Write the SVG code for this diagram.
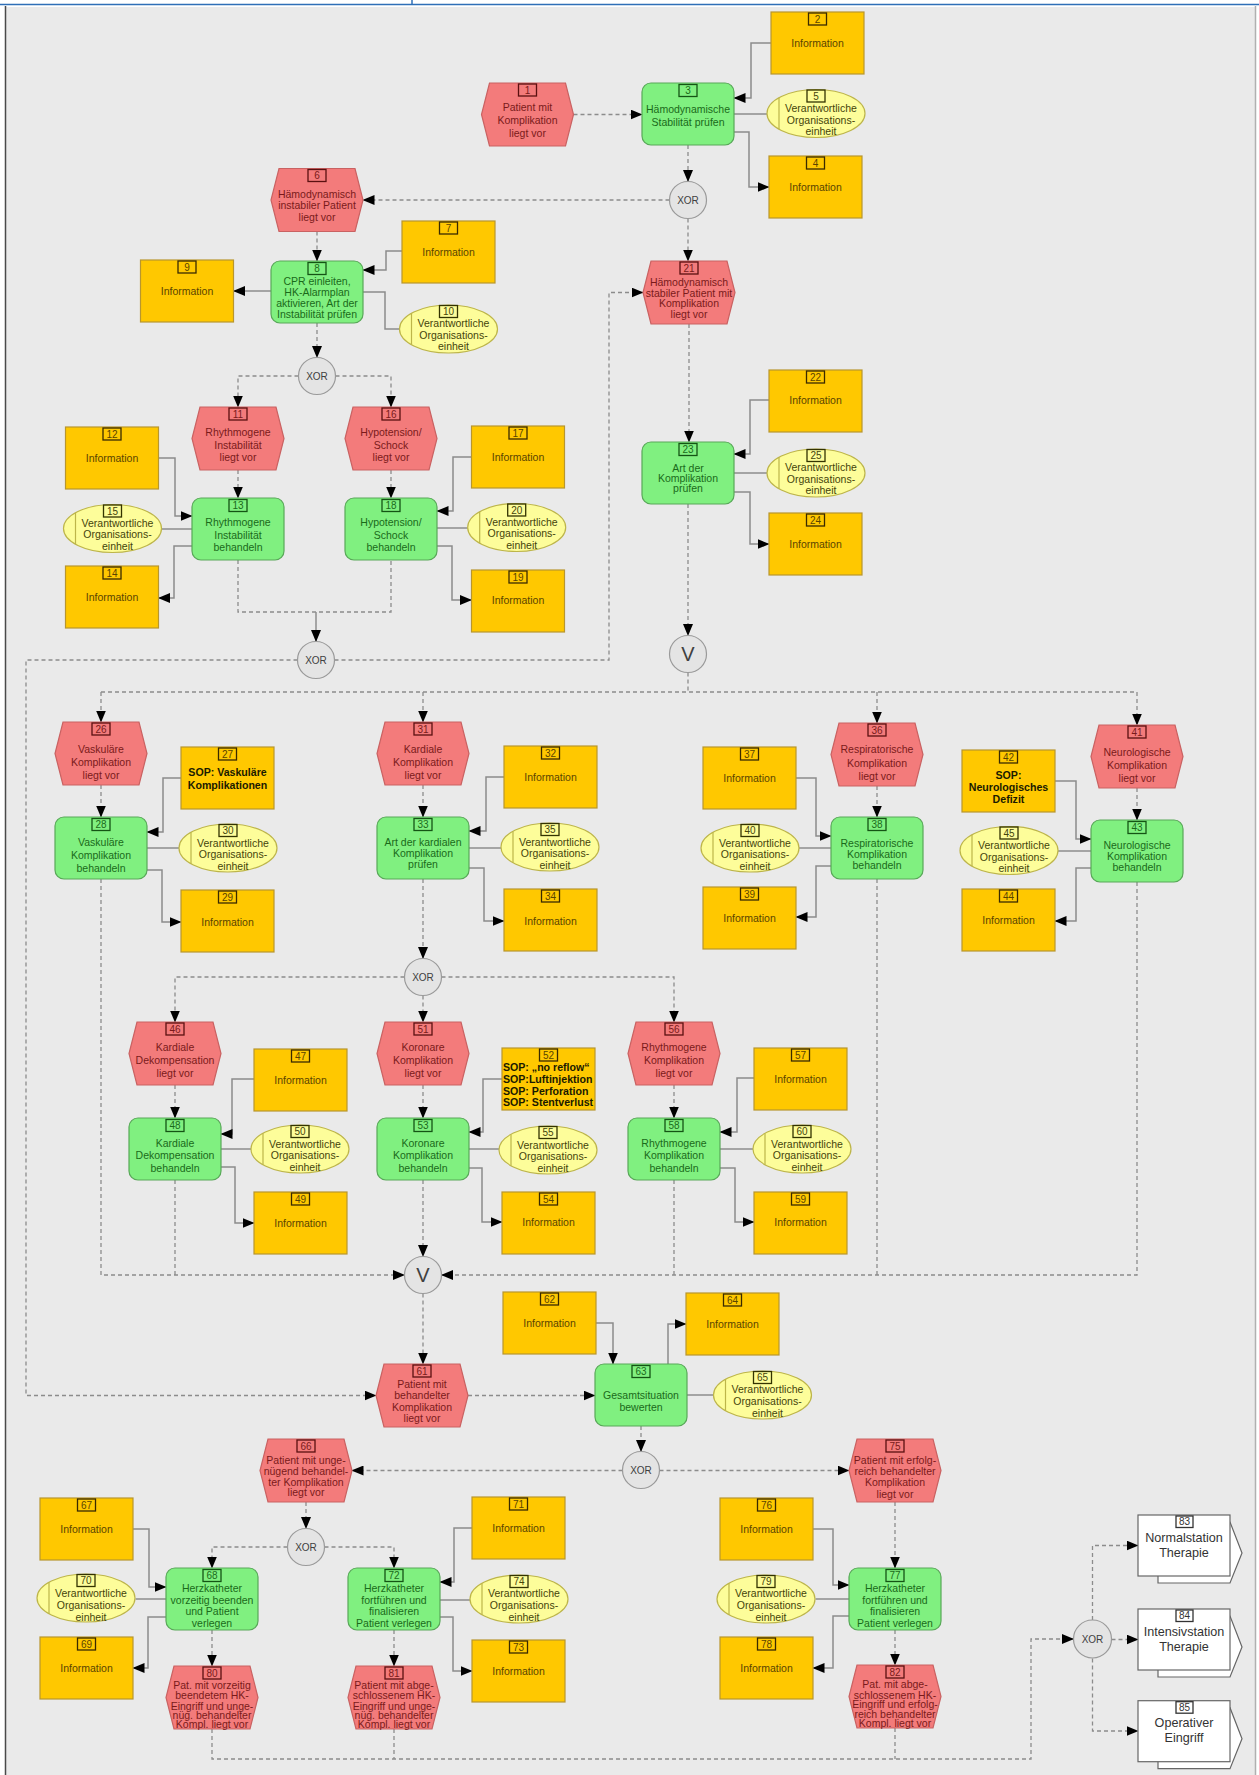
<svg xmlns="http://www.w3.org/2000/svg" xmlns:xlink="http://www.w3.org/1999/xlink" width="1259" height="1775" viewBox="0 0 1259 1775">
<style>
.ev{fill:#f37b7b;stroke:#c96262;stroke-width:1.2}
.fn{fill:#80f080;stroke:#58a858;stroke-width:1.2}
.inf{fill:#ffc800;stroke:#b8962e;stroke-width:1.2}
.org{fill:#fdfd9a;stroke:#bdb54a;stroke-width:1.2}
.ol{stroke:#bdb54a;stroke-width:1.2}
.gw{fill:#e4e4e4;stroke:#9a9a9a;stroke-width:1.2}
.pi{fill:#fff;stroke:#666;stroke-width:1.2}
.d{fill:none;stroke:#8c8c8c;stroke-width:1.3;stroke-dasharray:4 3}
.s{fill:none;stroke:#8c8c8c;stroke-width:1.5}
text{font-family:"Liberation Sans",Arial,sans-serif;font-size:10.5px;text-anchor:middle;dominant-baseline:central}
.te{fill:#7a1a1a}.tf{fill:#1a6a1a}.ti{fill:#5a4400}.to{fill:#44440a}.tg{fill:#404040;font-size:10px}.tp{fill:#333;font-size:12.6px}
.b{font-weight:bold;fill:#1a1a00;font-size:10.6px}
.n{font-size:10px}
.nb{fill:none;stroke-width:1.3}
.nbe{stroke:#5a1010}.nbf{stroke:#145414}.nbi{stroke:#3a2a00}.nbo{stroke:#333300}.nbp{stroke:#333}
</style>
<defs>
<marker id="a" markerUnits="userSpaceOnUse" markerWidth="12" markerHeight="10" refX="11.5" refY="5" orient="auto"><path d="M0,0L12,5L0,10z" fill="#000"/></marker>
<polygon id="ev" class="ev" points="8,0 84,0 92,31.5 84,63 8,63 0,31.5"/>
<rect id="fn" class="fn" width="92" height="62" rx="9"/>
<rect id="inf" class="inf" width="93" height="62"/>
<g id="org"><ellipse class="org" cx="49" cy="24" rx="49" ry="24"/><line class="ol" x1="12" y1="8.3" x2="12" y2="39.7"/></g>
<rect id="be" class="nb nbe" x="37" y="1" width="18" height="12"/>
<rect id="bf" class="nb nbf" x="37" y="1.5" width="18" height="12"/>
<rect id="bi" class="nb nbi" x="37.5" y="1" width="18" height="12"/>
<rect id="bo" class="nb nbo" x="40" y="0.5" width="18" height="12"/>
<g id="pis"><polygon class="pi" points="20,7 92,7 104,38 92,68 20,68"/><rect class="pi" width="92" height="61"/><rect class="nb nbp" x="38" y="1" width="17" height="11.5"/></g>
</defs>

<rect width="1259" height="1775" fill="#fff"/>
<rect x="6" y="7" width="1249" height="1768" fill="#eaeaea"/>
<line x1="5.5" y1="6" x2="5.5" y2="1775" stroke="#4a4a4a" stroke-width="1.5"/>
<line x1="1255.5" y1="6" x2="1255.5" y2="1775" stroke="#b0b0b0" stroke-width="1.5"/>
<line x1="0" y1="4.5" x2="1259" y2="4.5" stroke="#2f6fb7" stroke-width="1.6"/>
<line x1="412" y1="0" x2="412" y2="4.5" stroke="#2f6fb7" stroke-width="1.5"/>

<g id="connectors">
<!-- flow (dashed) -->
<path class="d" d="M573.5,114.5H642" marker-end="url(#a)"/>
<path class="d" d="M688,145V181.5" marker-end="url(#a)"/>
<path class="d" d="M669.5,200H363" marker-end="url(#a)"/>
<path class="d" d="M688,218.5V261" marker-end="url(#a)"/>
<path class="d" d="M317,231.5V261" marker-end="url(#a)"/>
<path class="d" d="M317,323V357.5" marker-end="url(#a)"/>
<path class="d" d="M298.5,376H238V407" marker-end="url(#a)"/>
<path class="d" d="M335.5,376H391V407" marker-end="url(#a)"/>
<path class="d" d="M238,470V498" marker-end="url(#a)"/>
<path class="d" d="M391,470V498" marker-end="url(#a)"/>
<path class="d" d="M238,560V612H391V560"/>
<path class="s" d="M316,612V641.5" marker-end="url(#a)"/>
<path class="d" d="M297.5,660H26V1395.5H376" marker-end="url(#a)"/>
<path class="d" d="M334.5,660H609V292.5H643" marker-end="url(#a)"/>
<path class="d" d="M689,324V442" marker-end="url(#a)"/>
<path class="d" d="M688,504V635.5" marker-end="url(#a)"/>
<path class="d" d="M688,672.5V692M101,692H1137"/>
<path class="d" d="M101,692V722" marker-end="url(#a)"/>
<path class="d" d="M423,692V722" marker-end="url(#a)"/>
<path class="d" d="M877,692V723" marker-end="url(#a)"/>
<path class="d" d="M1137,692V725" marker-end="url(#a)"/>
<path class="d" d="M101,785V817" marker-end="url(#a)"/>
<path class="d" d="M423,785V817" marker-end="url(#a)"/>
<path class="d" d="M877,786V817" marker-end="url(#a)"/>
<path class="d" d="M1137,788V820" marker-end="url(#a)"/>
<path class="d" d="M423,879V958.5" marker-end="url(#a)"/>
<path class="d" d="M404.5,977H175V1022" marker-end="url(#a)"/>
<path class="d" d="M423,995.5V1022" marker-end="url(#a)"/>
<path class="d" d="M441.5,977H674V1022" marker-end="url(#a)"/>
<path class="d" d="M175,1085V1118" marker-end="url(#a)"/>
<path class="d" d="M423,1085V1118" marker-end="url(#a)"/>
<path class="d" d="M674,1085V1118" marker-end="url(#a)"/>
<path class="d" d="M101,879V1275H404.5" marker-end="url(#a)"/>
<path class="d" d="M175,1180V1275"/>
<path class="d" d="M423,1180V1256.5" marker-end="url(#a)"/>
<path class="d" d="M1137,882V1275H441.5" marker-end="url(#a)"/>
<path class="d" d="M877,879V1275"/>
<path class="d" d="M674,1180V1275"/>
<path class="d" d="M423,1293.5V1364" marker-end="url(#a)"/>
<path class="d" d="M468,1395.5H595" marker-end="url(#a)"/>
<path class="d" d="M641,1426V1451.5" marker-end="url(#a)"/>
<path class="d" d="M622.5,1470.5H352" marker-end="url(#a)"/>
<path class="d" d="M659.5,1470.5H849" marker-end="url(#a)"/>
<path class="d" d="M306,1502V1528.5" marker-end="url(#a)"/>
<path class="d" d="M287.5,1547H212V1568" marker-end="url(#a)"/>
<path class="d" d="M324.5,1547H394V1568" marker-end="url(#a)"/>
<path class="d" d="M212,1630V1666" marker-end="url(#a)"/>
<path class="d" d="M394,1630V1666" marker-end="url(#a)"/>
<path class="d" d="M895,1502V1568" marker-end="url(#a)"/>
<path class="d" d="M895,1630V1665" marker-end="url(#a)"/>
<path class="d" d="M212,1729V1759H1031V1639H1073.5" marker-end="url(#a)"/>
<path class="d" d="M394,1729V1759M895,1728V1759"/>
<path class="d" d="M1092.5,1620V1545.5H1138" marker-end="url(#a)"/>
<path class="d" d="M1111.5,1639.5H1138" marker-end="url(#a)"/>
<path class="d" d="M1092.5,1658.5V1731H1138" marker-end="url(#a)"/>
<!-- resources (solid) -->
<path class="s" d="M771,43H751V98H734" marker-end="url(#a)"/>
<path class="s" d="M734,114H767"/>
<path class="s" d="M734,132H749V187H769" marker-end="url(#a)"/>
<path class="s" d="M271,291H233.5" marker-end="url(#a)"/>
<path class="s" d="M402,251H386V270H363" marker-end="url(#a)"/>
<path class="s" d="M363,292H385V329H400"/>
<path class="s" d="M158.5,458H175V516H192" marker-end="url(#a)"/>
<path class="s" d="M162,529H192"/>
<path class="s" d="M192,546H174V598H158.5" marker-end="url(#a)"/>
<path class="s" d="M471.5,457H453V511H437" marker-end="url(#a)"/>
<path class="s" d="M437,528H468"/>
<path class="s" d="M437,546H452V600H471.5" marker-end="url(#a)"/>
<path class="s" d="M769,400H750V454H734" marker-end="url(#a)"/>
<path class="s" d="M734,473H767"/>
<path class="s" d="M734,492H750V544H769" marker-end="url(#a)"/>
<path class="s" d="M181,778H163V832H147" marker-end="url(#a)"/>
<path class="s" d="M147,848H179"/>
<path class="s" d="M147,870H162V922H181" marker-end="url(#a)"/>
<path class="s" d="M504,777H486V831H469" marker-end="url(#a)"/>
<path class="s" d="M469,848H501.5"/>
<path class="s" d="M469,868H484V921H504" marker-end="url(#a)"/>
<path class="s" d="M796,778H816V836H831" marker-end="url(#a)"/>
<path class="s" d="M799,848H831"/>
<path class="s" d="M831,866H816V917H796" marker-end="url(#a)"/>
<path class="s" d="M1055,781H1076V839H1091" marker-end="url(#a)"/>
<path class="s" d="M1058,851H1091"/>
<path class="s" d="M1091,868H1076V921H1055" marker-end="url(#a)"/>
<path class="s" d="M254,1079H232V1134H221" marker-end="url(#a)"/>
<path class="s" d="M221,1149H251"/>
<path class="s" d="M221,1167H235V1223H254" marker-end="url(#a)"/>
<path class="s" d="M502,1079H483V1132H469" marker-end="url(#a)"/>
<path class="s" d="M469,1149H499"/>
<path class="s" d="M469,1168H482V1222H502" marker-end="url(#a)"/>
<path class="s" d="M754,1078H737V1132H720" marker-end="url(#a)"/>
<path class="s" d="M720,1149H753"/>
<path class="s" d="M720,1168H735V1222H754" marker-end="url(#a)"/>
<path class="s" d="M596,1323H613V1364" marker-end="url(#a)"/>
<path class="s" d="M668,1364V1324H686" marker-end="url(#a)"/>
<path class="s" d="M687,1395H713.5"/>
<path class="s" d="M133,1529H149V1587H166" marker-end="url(#a)"/>
<path class="s" d="M135.5,1599H166"/>
<path class="s" d="M166,1617H148V1668H133" marker-end="url(#a)"/>
<path class="s" d="M472,1528H454V1582H440" marker-end="url(#a)"/>
<path class="s" d="M440,1600H470"/>
<path class="s" d="M440,1617H453V1671H472" marker-end="url(#a)"/>
<path class="s" d="M813,1529H833V1585H849" marker-end="url(#a)"/>
<path class="s" d="M815.5,1599H849"/>
<path class="s" d="M849,1616H833V1668H813" marker-end="url(#a)"/>
</g>

<!-- Events -->
<g id="n1" transform="translate(481.5,83)"><use href="#ev"/><use href="#be"/><text class="te n" x="46" y="7">1</text><text class="te" x="46" y="24">Patient mit</text><text class="te" x="46" y="37">Komplikation</text><text class="te" x="46" y="50">liegt vor</text></g>
<g id="n6" transform="translate(271,168.5)"><use href="#ev"/><use href="#be"/><text class="te n" x="46" y="7">6</text><text class="te" x="46" y="25.5">Hämodynamisch</text><text class="te" x="46" y="36.5">instabiler Patient</text><text class="te" x="46" y="48.5">liegt vor</text></g>
<g id="n11" transform="translate(192,407)"><use href="#ev"/><use href="#be"/><text class="te n" x="46" y="7">11</text><text class="te" x="46" y="25">Rhythmogene</text><text class="te" x="46" y="37.5">Instabilität</text><text class="te" x="46" y="50">liegt vor</text></g>
<g id="n16" transform="translate(345,407)"><use href="#ev"/><use href="#be"/><text class="te n" x="46" y="7">16</text><text class="te" x="46" y="25">Hypotension/</text><text class="te" x="46" y="37.5">Schock</text><text class="te" x="46" y="50">liegt vor</text></g>
<g id="n21" transform="translate(643,261)"><use href="#ev"/><use href="#be"/><text class="te n" x="46" y="7">21</text><text class="te" x="46" y="21">Hämodynamisch</text><text class="te" x="46" y="31.5">stabiler Patient mit</text><text class="te" x="46" y="42">Komplikation</text><text class="te" x="46" y="53">liegt vor</text></g>
<g id="n26" transform="translate(55,722)"><use href="#ev"/><use href="#be"/><text class="te n" x="46" y="7">26</text><text class="te" x="46" y="26.5">Vaskuläre</text><text class="te" x="46" y="39.5">Komplikation</text><text class="te" x="46" y="52.5">liegt vor</text></g>
<g id="n31" transform="translate(377,722)"><use href="#ev"/><use href="#be"/><text class="te n" x="46" y="7">31</text><text class="te" x="46" y="26.5">Kardiale</text><text class="te" x="46" y="39.5">Komplikation</text><text class="te" x="46" y="52.5">liegt vor</text></g>
<g id="n36" transform="translate(831,723)"><use href="#ev"/><use href="#be"/><text class="te n" x="46" y="7">36</text><text class="te" x="46" y="26">Respiratorische</text><text class="te" x="46" y="39.5">Komplikation</text><text class="te" x="46" y="52.5">liegt vor</text></g>
<g id="n41" transform="translate(1091,725)"><use href="#ev"/><use href="#be"/><text class="te n" x="46" y="7">41</text><text class="te" x="46" y="26.5">Neurologische</text><text class="te" x="46" y="39.5">Komplikation</text><text class="te" x="46" y="52.5">liegt vor</text></g>
<g id="n46" transform="translate(129,1022)"><use href="#ev"/><use href="#be"/><text class="te n" x="46" y="7">46</text><text class="te" x="46" y="25">Kardiale</text><text class="te" x="46" y="37.5">Dekompensation</text><text class="te" x="46" y="50.5">liegt vor</text></g>
<g id="n51" transform="translate(377,1022)"><use href="#ev"/><use href="#be"/><text class="te n" x="46" y="7">51</text><text class="te" x="46" y="25">Koronare</text><text class="te" x="46" y="37.5">Komplikation</text><text class="te" x="46" y="50.5">liegt vor</text></g>
<g id="n56" transform="translate(628,1022)"><use href="#ev"/><use href="#be"/><text class="te n" x="46" y="7">56</text><text class="te" x="46" y="25">Rhythmogene</text><text class="te" x="46" y="37.5">Komplikation</text><text class="te" x="46" y="50.5">liegt vor</text></g>
<g id="n61" transform="translate(376,1364)"><use href="#ev"/><use href="#be"/><text class="te n" x="46" y="7">61</text><text class="te" x="46" y="19.5">Patient mit</text><text class="te" x="46" y="31">behandelter</text><text class="te" x="46" y="42.5">Komplikation</text><text class="te" x="46" y="54">liegt vor</text></g>
<g id="n66" transform="translate(260,1439)"><use href="#ev"/><use href="#be"/><text class="te n" x="46" y="7">66</text><text class="te" x="46" y="21">Patient mit unge-</text><text class="te" x="46" y="32">nügend behandel-</text><text class="te" x="46" y="42.5">ter Komplikation</text><text class="te" x="46" y="53">liegt vor</text></g>
<g id="n75" transform="translate(849,1439)"><use href="#ev"/><use href="#be"/><text class="te n" x="46" y="7">75</text><text class="te" x="46" y="20.5">Patient mit erfolg-</text><text class="te" x="46" y="32">reich behandelter</text><text class="te" x="46" y="43">Komplikation</text><text class="te" x="46" y="54.5">liegt vor</text></g>
<g id="n80" transform="translate(166,1666)"><use href="#ev"/><use href="#be"/><text class="te n" x="46" y="7">80</text><text class="te" x="46" y="19">Pat. mit vorzeitig</text><text class="te" x="46" y="29">beendetem HK-</text><text class="te" x="46" y="39.5">Eingriff und unge-</text><text class="te" x="46" y="48.5">nüg. behandelter</text><text class="te" x="46" y="57.5">Kompl. liegt vor</text></g>
<g id="n81" transform="translate(348,1666)"><use href="#ev"/><use href="#be"/><text class="te n" x="46" y="7">81</text><text class="te" x="46" y="19">Patient mit abge-</text><text class="te" x="46" y="29">schlossenem HK-</text><text class="te" x="46" y="39.5">Eingriff und unge-</text><text class="te" x="46" y="48.5">nüg. behandelter</text><text class="te" x="46" y="57.5">Kompl. liegt vor</text></g>
<g id="n82" transform="translate(849,1665)"><use href="#ev"/><use href="#be"/><text class="te n" x="46" y="7">82</text><text class="te" x="46" y="18.5">Pat. mit abge-</text><text class="te" x="46" y="29.5">schlossenem HK-</text><text class="te" x="46" y="39">Eingriff und erfolg-</text><text class="te" x="46" y="48.5">reich behandelter</text><text class="te" x="46" y="58">Kompl. liegt vor</text></g>

<!-- Functions -->
<g id="n3" transform="translate(642,83)"><use href="#fn"/><use href="#bf"/><text class="tf n" x="46" y="7.5">3</text><text class="tf" x="46" y="26">Hämodynamische</text><text class="tf" x="46" y="39">Stabilität prüfen</text></g>
<g id="n8" transform="translate(271,261)"><use href="#fn"/><use href="#bf"/><text class="tf n" x="46" y="7.5">8</text><text class="tf" x="46" y="20">CPR einleiten,</text><text class="tf" x="46" y="31">HK-Alarmplan</text><text class="tf" x="46" y="42">aktivieren, Art der</text><text class="tf" x="46" y="52.5">Instabilität prüfen</text></g>
<g id="n13" transform="translate(192,498)"><use href="#fn"/><use href="#bf"/><text class="tf n" x="46" y="7.5">13</text><text class="tf" x="46" y="24">Rhythmogene</text><text class="tf" x="46" y="36.5">Instabilität</text><text class="tf" x="46" y="49">behandeln</text></g>
<g id="n18" transform="translate(345,498)"><use href="#fn"/><use href="#bf"/><text class="tf n" x="46" y="7.5">18</text><text class="tf" x="46" y="24">Hypotension/</text><text class="tf" x="46" y="36.5">Schock</text><text class="tf" x="46" y="49">behandeln</text></g>
<g id="n23" transform="translate(642,442)"><use href="#fn"/><use href="#bf"/><text class="tf n" x="46" y="7.5">23</text><text class="tf" x="46" y="26">Art der</text><text class="tf" x="46" y="36">Komplikation</text><text class="tf" x="46" y="46">prüfen</text></g>
<g id="n28" transform="translate(55,817)"><use href="#fn"/><use href="#bf"/><text class="tf n" x="46" y="7.5">28</text><text class="tf" x="46" y="25">Vaskuläre</text><text class="tf" x="46" y="38">Komplikation</text><text class="tf" x="46" y="51">behandeln</text></g>
<g id="n33" transform="translate(377,817)"><use href="#fn"/><use href="#bf"/><text class="tf n" x="46" y="7.5">33</text><text class="tf" x="46" y="25">Art der kardialen</text><text class="tf" x="46" y="36">Komplikation</text><text class="tf" x="46" y="47">prüfen</text></g>
<g id="n38" transform="translate(831,817)"><use href="#fn"/><use href="#bf"/><text class="tf n" x="46" y="7.5">38</text><text class="tf" x="46" y="26">Respiratorische</text><text class="tf" x="46" y="37">Komplikation</text><text class="tf" x="46" y="47.5">behandeln</text></g>
<g id="n43" transform="translate(1091,820)"><use href="#fn"/><use href="#bf"/><text class="tf n" x="46" y="7.5">43</text><text class="tf" x="46" y="25">Neurologische</text><text class="tf" x="46" y="36">Komplikation</text><text class="tf" x="46" y="47">behandeln</text></g>
<g id="n48" transform="translate(129,1118)"><use href="#fn"/><use href="#bf"/><text class="tf n" x="46" y="7.5">48</text><text class="tf" x="46" y="24.5">Kardiale</text><text class="tf" x="46" y="37">Dekompensation</text><text class="tf" x="46" y="49.5">behandeln</text></g>
<g id="n53" transform="translate(377,1118)"><use href="#fn"/><use href="#bf"/><text class="tf n" x="46" y="7.5">53</text><text class="tf" x="46" y="24.5">Koronare</text><text class="tf" x="46" y="37">Komplikation</text><text class="tf" x="46" y="49.5">behandeln</text></g>
<g id="n58" transform="translate(628,1118)"><use href="#fn"/><use href="#bf"/><text class="tf n" x="46" y="7.5">58</text><text class="tf" x="46" y="24.5">Rhythmogene</text><text class="tf" x="46" y="37">Komplikation</text><text class="tf" x="46" y="49.5">behandeln</text></g>
<g id="n63" transform="translate(595,1364)"><use href="#fn"/><use href="#bf"/><text class="tf n" x="46" y="7.5">63</text><text class="tf" x="46" y="31">Gesamtsituation</text><text class="tf" x="46" y="43">bewerten</text></g>
<g id="n68" transform="translate(166,1568)"><use href="#fn"/><use href="#bf"/><text class="tf n" x="46" y="7.5">68</text><text class="tf" x="46" y="19.5">Herzkatheter</text><text class="tf" x="46" y="31.5">vorzeitig beenden</text><text class="tf" x="46" y="43">und Patient</text><text class="tf" x="46" y="54.5">verlegen</text></g>
<g id="n72" transform="translate(348,1568)"><use href="#fn"/><use href="#bf"/><text class="tf n" x="46" y="7.5">72</text><text class="tf" x="46" y="19.5">Herzkatheter</text><text class="tf" x="46" y="31.5">fortführen und</text><text class="tf" x="46" y="43">finalisieren</text><text class="tf" x="46" y="54.5">Patient verlegen</text></g>
<g id="n77" transform="translate(849,1568)"><use href="#fn"/><use href="#bf"/><text class="tf n" x="46" y="7.5">77</text><text class="tf" x="46" y="19.5">Herzkatheter</text><text class="tf" x="46" y="31.5">fortführen und</text><text class="tf" x="46" y="43">finalisieren</text><text class="tf" x="46" y="54.5">Patient verlegen</text></g>

<!-- Information objects -->
<g id="n2" transform="translate(771,12)"><use href="#inf"/><use href="#bi"/><text class="ti n" x="46.5" y="7">2</text><text class="ti" x="46.5" y="31">Information</text></g>
<g id="n4" transform="translate(769,156)"><use href="#inf"/><use href="#bi"/><text class="ti n" x="46.5" y="7">4</text><text class="ti" x="46.5" y="31">Information</text></g>
<g id="n7" transform="translate(402,221)"><use href="#inf"/><use href="#bi"/><text class="ti n" x="46.5" y="7">7</text><text class="ti" x="46.5" y="30.5">Information</text></g>
<g id="n9" transform="translate(140.5,260)"><use href="#inf"/><use href="#bi"/><text class="ti n" x="46.5" y="7">9</text><text class="ti" x="46.5" y="31">Information</text></g>
<g id="n12" transform="translate(65.5,427)"><use href="#inf"/><use href="#bi"/><text class="ti n" x="46.5" y="7">12</text><text class="ti" x="46.5" y="31">Information</text></g>
<g id="n14" transform="translate(65.5,566)"><use href="#inf"/><use href="#bi"/><text class="ti n" x="46.5" y="7">14</text><text class="ti" x="46.5" y="31">Information</text></g>
<g id="n17" transform="translate(471.5,426)"><use href="#inf"/><use href="#bi"/><text class="ti n" x="46.5" y="7">17</text><text class="ti" x="46.5" y="31">Information</text></g>
<g id="n19" transform="translate(471.5,570)"><use href="#inf"/><use href="#bi"/><text class="ti n" x="46.5" y="7">19</text><text class="ti" x="46.5" y="30">Information</text></g>
<g id="n22" transform="translate(769,370)"><use href="#inf"/><use href="#bi"/><text class="ti n" x="46.5" y="7">22</text><text class="ti" x="46.5" y="30">Information</text></g>
<g id="n24" transform="translate(769,513)"><use href="#inf"/><use href="#bi"/><text class="ti n" x="46.5" y="7">24</text><text class="ti" x="46.5" y="31">Information</text></g>
<g id="n27" transform="translate(181,747)"><use href="#inf"/><use href="#bi"/><text class="ti n" x="46.5" y="7">27</text><text class="b" x="46.5" y="25">SOP: Vaskuläre</text><text class="b" x="46.5" y="37.5">Komplikationen</text></g>
<g id="n29" transform="translate(181,890)"><use href="#inf"/><use href="#bi"/><text class="ti n" x="46.5" y="7">29</text><text class="ti" x="46.5" y="31.5">Information</text></g>
<g id="n32" transform="translate(504,746)"><use href="#inf"/><use href="#bi"/><text class="ti n" x="46.5" y="7">32</text><text class="ti" x="46.5" y="31">Information</text></g>
<g id="n34" transform="translate(504,889)"><use href="#inf"/><use href="#bi"/><text class="ti n" x="46.5" y="7">34</text><text class="ti" x="46.5" y="31.5">Information</text></g>
<g id="n37" transform="translate(703,747)"><use href="#inf"/><use href="#bi"/><text class="ti n" x="46.5" y="7">37</text><text class="ti" x="46.5" y="31">Information</text></g>
<g id="n39" transform="translate(703,887)"><use href="#inf"/><use href="#bi"/><text class="ti n" x="46.5" y="7">39</text><text class="ti" x="46.5" y="30.5">Information</text></g>
<g id="n42" transform="translate(962,750)"><use href="#inf"/><use href="#bi"/><text class="ti n" x="46.5" y="7">42</text><text class="b" x="46.5" y="24.5">SOP:</text><text class="b" x="46.5" y="36.8">Neurologisches</text><text class="b" x="46.5" y="49.3">Defizit</text></g>
<g id="n44" transform="translate(962,889)"><use href="#inf"/><use href="#bi"/><text class="ti n" x="46.5" y="7">44</text><text class="ti" x="46.5" y="31">Information</text></g>
<g id="n47" transform="translate(254,1049)"><use href="#inf"/><use href="#bi"/><text class="ti n" x="46.5" y="7">47</text><text class="ti" x="46.5" y="30.5">Information</text></g>
<g id="n49" transform="translate(254,1192)"><use href="#inf"/><use href="#bi"/><text class="ti n" x="46.5" y="7">49</text><text class="ti" x="46.5" y="30.5">Information</text></g>
<g id="n52" transform="translate(502,1048)"><use href="#inf"/><use href="#bi"/><text class="ti n" x="46.5" y="7">52</text><text class="b" x="1" y="18.7" style="text-anchor:start">SOP: „no reflow“</text><text class="b" x="1" y="31" style="text-anchor:start">SOP:Luftinjektion</text><text class="b" x="1" y="42.7" style="text-anchor:start">SOP: Perforation</text><text class="b" x="1" y="54.3" style="text-anchor:start">SOP: Stentverlust</text></g>
<g id="n54" transform="translate(502,1192)"><use href="#inf"/><use href="#bi"/><text class="ti n" x="46.5" y="7">54</text><text class="ti" x="46.5" y="30">Information</text></g>
<g id="n57" transform="translate(754,1048)"><use href="#inf"/><use href="#bi"/><text class="ti n" x="46.5" y="7">57</text><text class="ti" x="46.5" y="30.5">Information</text></g>
<g id="n59" transform="translate(754,1192)"><use href="#inf"/><use href="#bi"/><text class="ti n" x="46.5" y="7">59</text><text class="ti" x="46.5" y="30">Information</text></g>
<g id="n62" transform="translate(503,1292)"><use href="#inf"/><use href="#bi"/><text class="ti n" x="46.5" y="7">62</text><text class="ti" x="46.5" y="31">Information</text></g>
<g id="n64" transform="translate(686,1293)"><use href="#inf"/><use href="#bi"/><text class="ti n" x="46.5" y="7">64</text><text class="ti" x="46.5" y="31">Information</text></g>
<g id="n67" transform="translate(40,1498)"><use href="#inf"/><use href="#bi"/><text class="ti n" x="46.5" y="7">67</text><text class="ti" x="46.5" y="31">Information</text></g>
<g id="n69" transform="translate(40,1637)"><use href="#inf"/><use href="#bi"/><text class="ti n" x="46.5" y="7">69</text><text class="ti" x="46.5" y="31">Information</text></g>
<g id="n71" transform="translate(472,1497)"><use href="#inf"/><use href="#bi"/><text class="ti n" x="46.5" y="7">71</text><text class="ti" x="46.5" y="30.5">Information</text></g>
<g id="n73" transform="translate(472,1640)"><use href="#inf"/><use href="#bi"/><text class="ti n" x="46.5" y="7">73</text><text class="ti" x="46.5" y="31">Information</text></g>
<g id="n76" transform="translate(720,1498)"><use href="#inf"/><use href="#bi"/><text class="ti n" x="46.5" y="7">76</text><text class="ti" x="46.5" y="31">Information</text></g>
<g id="n78" transform="translate(720,1637)"><use href="#inf"/><use href="#bi"/><text class="ti n" x="46.5" y="7">78</text><text class="ti" x="46.5" y="31">Information</text></g>

<!-- Organisational units -->
<g id="n5" transform="translate(767,89.5)"><use href="#org"/><use href="#bo"/><text class="to n" x="49" y="6.5">5</text><text class="to" x="54" y="18.5">Verantwortliche</text><text class="to" x="54" y="30">Organisations-</text><text class="to" x="54" y="41.5">einheit</text></g>
<g id="n10" transform="translate(399.5,305)"><use href="#org"/><use href="#bo"/><text class="to n" x="49" y="6.5">10</text><text class="to" x="54" y="18">Verantwortliche</text><text class="to" x="54" y="29.5">Organisations-</text><text class="to" x="54" y="41">einheit</text></g>
<g id="n15" transform="translate(63.5,504.5)"><use href="#org"/><use href="#bo"/><text class="to n" x="49" y="6.5">15</text><text class="to" x="54" y="18">Verantwortliche</text><text class="to" x="54" y="29.5">Organisations-</text><text class="to" x="54" y="41">einheit</text></g>
<g id="n20" transform="translate(467.7,503.5)"><use href="#org"/><use href="#bo"/><text class="to n" x="49" y="6.5">20</text><text class="to" x="54" y="18">Verantwortliche</text><text class="to" x="54" y="29.5">Organisations-</text><text class="to" x="54" y="41">einheit</text></g>
<g id="n25" transform="translate(767,449)"><use href="#org"/><use href="#bo"/><text class="to n" x="49" y="6.5">25</text><text class="to" x="54" y="18">Verantwortliche</text><text class="to" x="54" y="29.5">Organisations-</text><text class="to" x="54" y="41">einheit</text></g>
<g id="n30" transform="translate(179,824)"><use href="#org"/><use href="#bo"/><text class="to n" x="49" y="6.5">30</text><text class="to" x="54" y="18.5">Verantwortliche</text><text class="to" x="54" y="30">Organisations-</text><text class="to" x="54" y="41.5">einheit</text></g>
<g id="n35" transform="translate(501,823)"><use href="#org"/><use href="#bo"/><text class="to n" x="49" y="6.5">35</text><text class="to" x="54" y="18.5">Verantwortliche</text><text class="to" x="54" y="30">Organisations-</text><text class="to" x="54" y="41.5">einheit</text></g>
<g id="n40" transform="translate(701,824)"><use href="#org"/><use href="#bo"/><text class="to n" x="49" y="6.5">40</text><text class="to" x="54" y="18.5">Verantwortliche</text><text class="to" x="54" y="30">Organisations-</text><text class="to" x="54" y="41.5">einheit</text></g>
<g id="n45" transform="translate(960,826.5)"><use href="#org"/><use href="#bo"/><text class="to n" x="49" y="6.5">45</text><text class="to" x="54" y="18">Verantwortliche</text><text class="to" x="54" y="30">Organisations-</text><text class="to" x="54" y="41.5">einheit</text></g>
<g id="n50" transform="translate(251,1125)"><use href="#org"/><use href="#bo"/><text class="to n" x="49" y="6.5">50</text><text class="to" x="54" y="18.5">Verantwortliche</text><text class="to" x="54" y="30">Organisations-</text><text class="to" x="54" y="41.5">einheit</text></g>
<g id="n55" transform="translate(499,1126)"><use href="#org"/><use href="#bo"/><text class="to n" x="49" y="6.5">55</text><text class="to" x="54" y="18.5">Verantwortliche</text><text class="to" x="54" y="30">Organisations-</text><text class="to" x="54" y="41.5">einheit</text></g>
<g id="n60" transform="translate(753,1125)"><use href="#org"/><use href="#bo"/><text class="to n" x="49" y="6.5">60</text><text class="to" x="54" y="18.5">Verantwortliche</text><text class="to" x="54" y="30">Organisations-</text><text class="to" x="54" y="41.5">einheit</text></g>
<g id="n65" transform="translate(713.5,1371)"><use href="#org"/><use href="#bo"/><text class="to n" x="49" y="6.5">65</text><text class="to" x="54" y="18">Verantwortliche</text><text class="to" x="54" y="30">Organisations-</text><text class="to" x="54" y="41.5">einheit</text></g>
<g id="n70" transform="translate(37,1574)"><use href="#org"/><use href="#bo"/><text class="to n" x="49" y="6.5">70</text><text class="to" x="54" y="19">Verantwortliche</text><text class="to" x="54" y="31">Organisations-</text><text class="to" x="54" y="42.5">einheit</text></g>
<g id="n74" transform="translate(470,1575)"><use href="#org"/><use href="#bo"/><text class="to n" x="49" y="6.5">74</text><text class="to" x="54" y="18">Verantwortliche</text><text class="to" x="54" y="30">Organisations-</text><text class="to" x="54" y="41.5">einheit</text></g>
<g id="n79" transform="translate(717,1575)"><use href="#org"/><use href="#bo"/><text class="to n" x="49" y="6.5">79</text><text class="to" x="54" y="18">Verantwortliche</text><text class="to" x="54" y="30">Organisations-</text><text class="to" x="54" y="41.5">einheit</text></g>

<!-- Gateways -->
<g id="x1" transform="translate(688,200)"><circle class="gw" r="18.5"/><text class="tg">XOR</text></g>
<g id="x2" transform="translate(317,376)"><circle class="gw" r="18.5"/><text class="tg">XOR</text></g>
<g id="x3" transform="translate(316,660)"><circle class="gw" r="18.5"/><text class="tg">XOR</text></g>
<g id="o1" transform="translate(688,654)"><circle class="gw" r="18.5"/><text class="tg" style="font-size:20px">V</text></g>
<g id="x4" transform="translate(423,977)"><circle class="gw" r="18.5"/><text class="tg">XOR</text></g>
<g id="o2" transform="translate(423,1275)"><circle class="gw" r="18.5"/><text class="tg" style="font-size:20px">V</text></g>
<g id="x5" transform="translate(641,1470)"><circle class="gw" r="18.5"/><text class="tg">XOR</text></g>
<g id="x6" transform="translate(306,1547)"><circle class="gw" r="18.5"/><text class="tg">XOR</text></g>
<g id="x7" transform="translate(1092.5,1639)"><circle class="gw" r="19"/><text class="tg">XOR</text></g>

<!-- Process interfaces -->
<g id="n83" transform="translate(1138,1515)"><use href="#pis"/><text class="tp" x="46.5" y="6.5" style="font-size:10px">83</text><text class="tp" x="46" y="22.7">Normalstation</text><text class="tp" x="46" y="38.3">Therapie</text></g>
<g id="n84" transform="translate(1138,1609)"><use href="#pis"/><text class="tp" x="46.5" y="6.5" style="font-size:10px">84</text><text class="tp" x="46" y="22.7">Intensivstation</text><text class="tp" x="46" y="38.3">Therapie</text></g>
<g id="n85" transform="translate(1138,1700.7)"><use href="#pis"/><text class="tp" x="46.5" y="6.5" style="font-size:10px">85</text><text class="tp" x="46" y="22">Operativer</text><text class="tp" x="46" y="37.6">Eingriff</text></g>
</svg>
